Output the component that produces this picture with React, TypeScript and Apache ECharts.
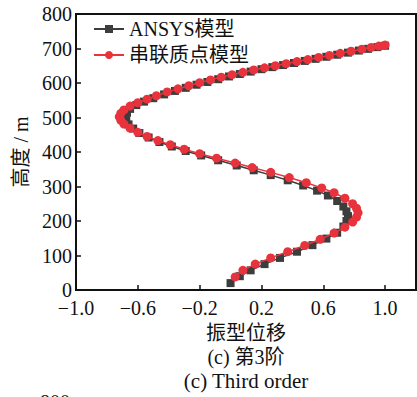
import React, { useEffect, useRef } from "react";
import * as echarts from "echarts";

const xTickValues = [-1.0, -0.6, -0.2, 0.2, 0.6, 1.0];
const yTickValues = [0, 100, 200, 300, 400, 500, 600, 700, 800];

const ansysHeight = [
  20, 40, 57, 75, 93, 111, 130, 149, 166, 184, 200, 214, 228, 242, 258, 274, 288, 303, 318, 333,
  347, 361, 376, 390, 403, 416, 429, 442, 455, 468, 480, 492, 503, 514, 525, 536, 546, 556, 567, 577,
  586, 595, 603, 611, 619, 626, 633, 640, 646, 652, 658, 664, 670, 676, 682, 688, 694, 699, 704, 708,
];
const ansysDisp = [
  0.0, 0.06, 0.13, 0.22, 0.32, 0.43, 0.53, 0.62, 0.69, 0.73, 0.75, 0.76, 0.75, 0.73, 0.69, 0.63, 0.56, 0.47, 0.37, 0.26,
  0.15, 0.04, -0.08, -0.19, -0.29, -0.38, -0.46, -0.53, -0.59, -0.63, -0.66, -0.675, -0.68, -0.67, -0.65, -0.61, -0.56, -0.5, -0.43, -0.36,
  -0.29, -0.22, -0.15, -0.08, -0.01, 0.06, 0.13, 0.2, 0.27, 0.34, 0.41, 0.48, 0.55, 0.62, 0.69, 0.76, 0.83, 0.89, 0.95, 1.0,
];

const massHeight = [
  38, 57, 75, 93, 111, 129, 147, 165, 182, 197, 211, 224, 237, 250, 266, 282, 296, 311, 326, 341,
  355, 368, 382, 395, 408, 421, 433, 445, 457, 469, 481, 492, 502, 512, 522, 533, 543, 553, 563, 574,
  583, 592, 601, 609, 617, 624, 631, 638, 644, 650, 656, 662, 668, 674, 680, 686, 692, 698, 703, 707, 710,
];
const massDisp = [
  0.03, 0.08, 0.16, 0.26, 0.37, 0.48, 0.58, 0.67, 0.74, 0.79, 0.815, 0.825, 0.815, 0.79, 0.74, 0.67, 0.59, 0.49, 0.38, 0.26,
  0.14, 0.03, -0.09, -0.2, -0.3, -0.39, -0.47, -0.54, -0.6, -0.65, -0.69, -0.71, -0.72, -0.71, -0.69, -0.65, -0.6, -0.54, -0.48, -0.41,
  -0.34, -0.27, -0.2, -0.13, -0.06, 0.01, 0.08, 0.15, 0.22, 0.29, 0.36, 0.43, 0.5, 0.57, 0.64, 0.71, 0.78, 0.85, 0.91, 0.96, 1.0,
];

const seriesNames = ["ANSYS模型", "串联质点模型"];
const captionCn = "(c) 第3阶";
const captionEn = "(c) Third order";
const FONT = '"Liberation Serif", "Times New Roman", "Noto Sans CJK SC", serif';

export default function App() {
  const ref = useRef<HTMLDivElement>(null);
  useEffect(() => {
    if (!ref.current) return;
    const chart = echarts.init(ref.current, undefined, { renderer: "svg" });
    const fmt = (v: number) => v.toFixed(1).replace("-", "\u2212");
    chart.setOption({
      animation: false,
      textStyle: { fontFamily: FONT },
      grid: {
        left: 76,
        top: 14,
        right: 1,
        bottom: 107,
        show: true,
        borderColor: "#111",
        borderWidth: 2,
        backgroundColor: "transparent",
      },
      legend: {
        orient: "vertical",
        left: 93,
        top: 19,
        padding: 0,
        itemGap: 6,
        itemWidth: 30,
        itemHeight: 10,
        textStyle: { fontFamily: FONT, fontSize: 20, color: "#111", lineHeight: 20 },
        data: seriesNames,
      },
      xAxis: {
        type: "value",
        min: -1,
        max: 1.2,
        name: "振型位移",
        nameLocation: "middle",
        nameGap: 31,
        nameTextStyle: { fontFamily: FONT, fontSize: 20, color: "#111" },
        axisLine: { show: true, onZero: false, lineStyle: { color: "#111", width: 2 } },
        axisTick: { show: true, inside: true, length: 5, customValues: xTickValues, lineStyle: { color: "#111", width: 1.5 } },
        axisLabel: {
          customValues: xTickValues,
          formatter: fmt,
          fontFamily: FONT,
          fontSize: 20,
          color: "#111",
          margin: 8,
        },
        splitLine: { show: false },
      },
      yAxis: {
        type: "value",
        min: 0,
        max: 800,
        interval: 100,
        name: "高度 / m",
        nameLocation: "middle",
        nameGap: 40,
        nameTextStyle: { fontFamily: FONT, fontSize: 20, color: "#111" },
        axisLine: { show: true, onZero: false, lineStyle: { color: "#111", width: 2 } },
        axisTick: { show: true, inside: true, length: 5, lineStyle: { color: "#111", width: 1.5 } },
        axisLabel: {
          fontFamily: FONT,
          fontSize: 20,
          color: "#111",
          margin: 4,
          formatter: (v: number) => (yTickValues.includes(v) ? String(v) : ""),
        },
        splitLine: { show: false },
      },
      graphic: [
        {
          type: "text",
          x: 246,
          y: 347,
          style: { text: captionCn, font: `20px ${FONT}`, fill: "#111", textAlign: "center", textVerticalAlign: "top" },
        },
        {
          type: "text",
          x: 246,
          y: 370,
          style: { text: captionEn, font: `21px ${FONT}`, fill: "#111", textAlign: "center", textVerticalAlign: "top" },
        },
        {
          type: "text",
          x: 40,
          y: 392,
          style: { text: "800", font: `20px ${FONT}`, fill: "#111", textVerticalAlign: "top" },
        },
      ],
      series: [
        {
          name: seriesNames[0],
          type: "line",
          data: ansysDisp.map((d, i) => [d, ansysHeight[i]]),
          symbol: "rect",
          symbolSize: 8,
          itemStyle: { color: "#3d3d3d" },
          lineStyle: { color: "#3d3d3d", width: 1.5 },
          z: 2,
        },
        {
          name: seriesNames[1],
          type: "line",
          data: massDisp.map((d, i) => [d, massHeight[i]]),
          symbol: "circle",
          symbolSize: 9,
          itemStyle: { color: "#e8333d" },
          lineStyle: { color: "#e8333d", width: 1.5 },
          z: 3,
        },
      ],
    });
    return () => chart.dispose();
  }, []);
  return <div ref={ref} style={{ width: 417, height: 397, position: "absolute", left: 0, top: 0 }} />;
}
